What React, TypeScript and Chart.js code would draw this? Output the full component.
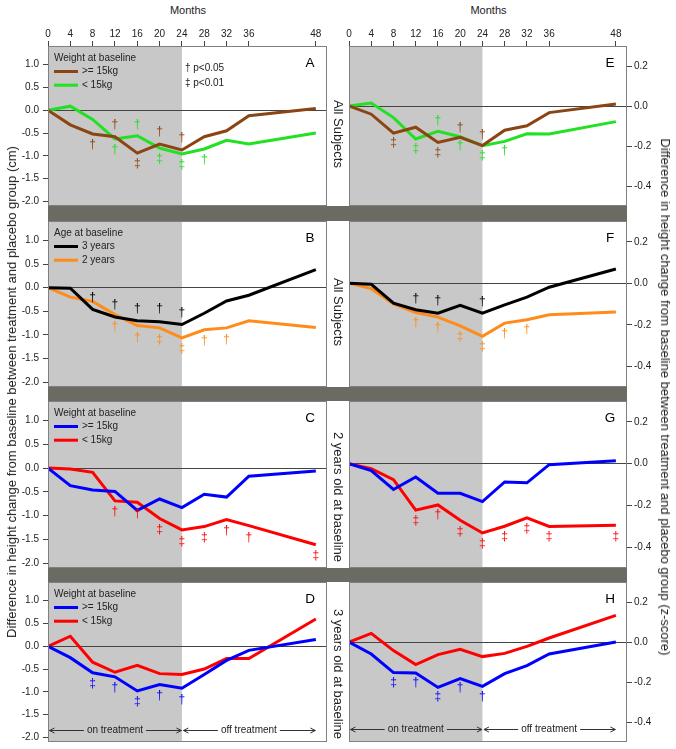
import React, { useEffect, useRef } from 'react';
import { Chart, registerables } from 'chart.js';

Chart.register(...registerables);

const FONT = '"Liberation Sans", Arial, Helvetica, sans-serif';

// ---------- data ----------
const months = [0, 4, 8, 12, 16, 20, 24, 28, 32, 36, 48];
const monthTicks = [0, 4, 8, 12, 16, 20, 24, 28, 32, 36, 48];
const cmTicks = [1.0, 0.5, 0.0, -0.5, -1.0, -1.5, -2.0];
const zTicks = [0.2, 0.0, -0.2, -0.4];
const treatmentWindow = [0, 24];
const phaseLabels = ['on treatment', 'off treatment'];
const phaseBounds = [[0, 24], [24, 48]];
const pLegend = ['\u2020 p<0.05', '\u2021 p<0.01'];
const rowLabels = ['All Subjects', 'All Subjects', '2 years old at baseline', '3 years old at baseline'];
const weightLabels = ['>= 15kg', '< 15kg'];
const ageLabels = ['3 years', '2 years'];
const legendTitles = ['Weight at baseline', 'Age at baseline', 'Weight at baseline', 'Weight at baseline'];
const leftTitle = 'Difference in height change from baseline between treatment and placebo group (cm)';
const rightTitle = 'Difference in height change from baseline between treatment and placebo group (z-score)';

const D = '\u2020';
const DD = '\u2021';

// Panel A (cm, all subjects, by weight)
const aHeavy = [0, -0.32, -0.52, -0.58, -0.94, -0.74, -0.87, -0.58, -0.45, -0.12, 0.04];
const aLight = [0, 0.09, -0.2, -0.63, -0.56, -0.83, -0.96, -0.85, -0.66, -0.74, -0.5];
const aHeavySig: [number, number, string][] = [[8, -0.76, D], [12, -0.32, D], [16, -1.18, DD], [20, -0.48, D], [24, -0.61, D]];
const aLightSig: [number, number, string][] = [[12, -0.87, D], [16, -0.32, D], [20, -1.06, DD], [24, -1.19, DD], [28, -1.09, D]];

// Panel E (z-score, all subjects, by weight)
const eHeavy = [0, -0.041, -0.136, -0.106, -0.182, -0.157, -0.198, -0.121, -0.099, -0.033, 0.01];
const eLight = [0, 0.015, -0.058, -0.165, -0.127, -0.154, -0.198, -0.177, -0.139, -0.14, -0.078];
const eHeavySig: [number, number, string][] = [[8, -0.185, DD], [16, -0.231, DD], [20, -0.107, D], [24, -0.144, D]];
const eLightSig: [number, number, string][] = [[12, -0.215, DD], [16, -0.074, D], [20, -0.198, D], [24, -0.248, DD], [28, -0.223, D]];

// Panel B (cm, all subjects, by age)
const bAge3 = [0, -0.01, -0.46, -0.62, -0.7, -0.72, -0.78, -0.54, -0.28, -0.16, 0.38];
const bAge2 = [0, -0.2, -0.29, -0.57, -0.8, -0.85, -1.06, -0.89, -0.85, -0.7, -0.84];
const bAge3Sig: [number, number, string][] = [[8, -0.21, D], [12, -0.36, D], [16, -0.45, D], [20, -0.45, D], [24, -0.52, D]];
const bAge2Sig: [number, number, string][] = [[12, -0.82, D], [16, -1.06, D], [20, -1.11, DD], [24, -1.3, DD], [28, -1.13, D], [32, -1.1, D]];

// Panel F (z-score, all subjects, by age)
const fAge3 = [0, -0.005, -0.096, -0.128, -0.144, -0.107, -0.144, -0.104, -0.067, -0.019, 0.069];
const fAge2 = [0, -0.026, -0.099, -0.141, -0.163, -0.205, -0.256, -0.192, -0.176, -0.152, -0.138];
const fAge3Sig: [number, number, string][] = [[12, -0.072, D], [16, -0.083, D], [24, -0.091, D]];
const fAge2Sig: [number, number, string][] = [[12, -0.189, D], [16, -0.216, D], [20, -0.256, DD], [24, -0.304, DD], [28, -0.243, D], [32, -0.224, D]];

// Panel C (cm, 2 years old, by weight)
const cHeavy = [0, -0.37, -0.46, -0.49, -0.89, -0.65, -0.83, -0.55, -0.61, -0.17, -0.06];
const cLight = [0, -0.02, -0.09, -0.69, -0.72, -1.06, -1.3, -1.23, -1.08, -1.21, -1.61];
const cLightSig: [number, number, string][] = [[12, -0.92, D], [16, -0.96, D], [20, -1.3, DD], [24, -1.55, DD], [28, -1.46, DD], [32, -1.32, D], [36, -1.46, D], [48, -1.84, DD]];

// Panel G (z-score, 2 years old, by weight)
const gHeavy = [0, -0.033, -0.124, -0.064, -0.142, -0.142, -0.182, -0.088, -0.092, -0.005, 0.014];
const gLight = [0, -0.024, -0.077, -0.223, -0.198, -0.271, -0.332, -0.3, -0.26, -0.301, -0.295];
const gLightSig: [number, number, string][] = [[12, -0.273, DD], [16, -0.247, D], [20, -0.327, DD], [24, -0.383, DD], [28, -0.351, DD], [32, -0.311, DD], [36, -0.352, DD], [48, -0.348, DD]];

// Panel D (cm, 3 years old, by weight)
const dHeavy = [0, -0.25, -0.58, -0.67, -0.98, -0.84, -0.92, -0.62, -0.31, -0.09, 0.15];
const dLight = [0, 0.22, -0.35, -0.57, -0.42, -0.6, -0.62, -0.5, -0.27, -0.27, 0.6];
const dHeavySig: [number, number, string][] = [[8, -0.82, DD], [12, -0.91, D], [16, -1.22, DD], [20, -1.09, D], [24, -1.18, D]];

// Panel H (z-score, 3 years old, by weight)
const hHeavy = [0, -0.06, -0.153, -0.155, -0.227, -0.183, -0.222, -0.158, -0.118, -0.06, 0.0];
const hLight = [0, 0.043, -0.043, -0.113, -0.063, -0.037, -0.073, -0.057, -0.022, 0.02, 0.133];
const hHeavySig: [number, number, string][] = [[8, -0.202, DD], [12, -0.202, D], [16, -0.272, DD], [20, -0.23, D], [24, -0.272, D]];

// phase annotation levels (value units) for bottom panels
const phaseLevelCm = -1.835;
const phaseLevelZ = -0.433;

// ---------- styles ----------
const BROWN = '#8b4513';
const GREEN = '#22e022';
const BLACK = '#000000';
const ORANGE = '#ff8c1a';
const BLUE = '#0000ff';
const RED = '#ff0000';
const SHADE = '#c8c8c8';
const FRAME = '#808080';
const DIVIDER = '#6b6b63';
const TEXT = '#222222';

type Series = { label: string; color: string; values: number[]; sig: [number, number, string][] };
type PanelCfg = {
  key: string;
  letter: string;
  side: 'left' | 'right';
  top: number;
  bottom: number;
  series: Series[];
  legendTitle?: string;
  showP?: boolean;
  topAxis?: boolean;
  phaseLevel?: number;
};

const rows = [
  { top: 46, bottom: 206 },
  { top: 221, bottom: 387 },
  { top: 401, bottom: 568 },
  { top: 582, bottom: 742 },
];

const panels: PanelCfg[] = [
  { key: 'A', letter: 'A', side: 'left', ...rows[0], topAxis: true, showP: true, legendTitle: legendTitles[0],
    series: [
      { label: weightLabels[0], color: BROWN, values: aHeavy, sig: aHeavySig },
      { label: weightLabels[1], color: GREEN, values: aLight, sig: aLightSig },
    ] },
  { key: 'E', letter: 'E', side: 'right', ...rows[0], topAxis: true,
    series: [
      { label: weightLabels[0], color: BROWN, values: eHeavy, sig: eHeavySig },
      { label: weightLabels[1], color: GREEN, values: eLight, sig: eLightSig },
    ] },
  { key: 'B', letter: 'B', side: 'left', ...rows[1], legendTitle: legendTitles[1],
    series: [
      { label: ageLabels[0], color: BLACK, values: bAge3, sig: bAge3Sig },
      { label: ageLabels[1], color: ORANGE, values: bAge2, sig: bAge2Sig },
    ] },
  { key: 'F', letter: 'F', side: 'right', ...rows[1],
    series: [
      { label: ageLabels[0], color: BLACK, values: fAge3, sig: fAge3Sig },
      { label: ageLabels[1], color: ORANGE, values: fAge2, sig: fAge2Sig },
    ] },
  { key: 'C', letter: 'C', side: 'left', ...rows[2], legendTitle: legendTitles[2],
    series: [
      { label: weightLabels[0], color: BLUE, values: cHeavy, sig: [] },
      { label: weightLabels[1], color: RED, values: cLight, sig: cLightSig },
    ] },
  { key: 'G', letter: 'G', side: 'right', ...rows[2],
    series: [
      { label: weightLabels[0], color: BLUE, values: gHeavy, sig: [] },
      { label: weightLabels[1], color: RED, values: gLight, sig: gLightSig },
    ] },
  { key: 'D', letter: 'D', side: 'left', ...rows[3], legendTitle: legendTitles[3], phaseLevel: phaseLevelCm,
    series: [
      { label: weightLabels[0], color: BLUE, values: dHeavy, sig: dHeavySig },
      { label: weightLabels[1], color: RED, values: dLight, sig: [] },
    ] },
  { key: 'H', letter: 'H', side: 'right', ...rows[3], phaseLevel: phaseLevelZ,
    series: [
      { label: weightLabels[0], color: BLUE, values: hHeavy, sig: hHeavySig },
      { label: weightLabels[1], color: RED, values: hLight, sig: [] },
    ] },
];

function decorPlugin(cfg: PanelCfg) {
  return {
    id: 'decor' + cfg.key,
    beforeDraw(chart: any) {
      const { ctx, chartArea: a, scales } = chart;
      const xs = scales.x;
      const x0 = xs.getPixelForValue(treatmentWindow[0]);
      const x1 = xs.getPixelForValue(treatmentWindow[1]);
      ctx.save();
      ctx.fillStyle = SHADE;
      ctx.fillRect(x0, a.top, x1 - x0, a.bottom - a.top);
      ctx.restore();
    },
    afterDatasetsDraw(chart: any) {
      const { ctx, chartArea: a, scales } = chart;
      const xs = scales.x;
      const ys = scales.y;
      ctx.save();
      // frame
      ctx.strokeStyle = FRAME;
      ctx.lineWidth = 1;
      ctx.strokeRect(Math.round(a.left) + 0.5, Math.round(a.top) + 0.5, Math.round(a.right - a.left) - 1, Math.round(a.bottom - a.top) - 1);

      // significance markers
      ctx.font = `12px ${FONT}`;
      ctx.textAlign = 'center';
      ctx.textBaseline = 'middle';
      cfg.series.forEach((s) => {
        ctx.fillStyle = s.color;
        s.sig.forEach(([m, v, g]) => {
          ctx.fillText(g, xs.getPixelForValue(m), ys.getPixelForValue(v));
        });
      });

      // panel letter
      ctx.fillStyle = '#000';
      ctx.font = `13.5px ${FONT}`;
      ctx.fillText(cfg.letter, a.right - 17, a.top + 17.5);

      // legend
      if (cfg.legendTitle) {
        ctx.font = `10px ${FONT}`;
        ctx.textAlign = 'left';
        ctx.fillStyle = TEXT;
        ctx.fillText(cfg.legendTitle, a.left + 6, a.top + 12.5);
        cfg.series.forEach((s, i) => {
          const y = a.top + 25.5 + i * 13.7;
          ctx.strokeStyle = s.color;
          ctx.lineWidth = 3;
          ctx.beginPath();
          ctx.moveTo(a.left + 6, y);
          ctx.lineTo(a.left + 30, y);
          ctx.stroke();
          ctx.fillStyle = TEXT;
          ctx.fillText(s.label, a.left + 34, y);
        });
      }

      // p-value key
      if (cfg.showP) {
        ctx.font = `10px ${FONT}`;
        ctx.textAlign = 'left';
        ctx.fillStyle = TEXT;
        const px = xs.getPixelForValue(treatmentWindow[1]) + 3;
        pLegend.forEach((t, i) => ctx.fillText(t, px, a.top + 22 + i * 15));
      }

      // on / off treatment arrows
      if (cfg.phaseLevel !== undefined) {
        const y = Math.round(ys.getPixelForValue(cfg.phaseLevel)) + 0.5;
        ctx.font = `10px ${FONT}`;
        ctx.textAlign = 'center';
        ctx.strokeStyle = '#333';
        ctx.fillStyle = TEXT;
        ctx.lineWidth = 1;
        phaseBounds.forEach(([s, e], i) => {
          const xa = xs.getPixelForValue(s) + 1.5;
          const xb = xs.getPixelForValue(e) - 0.5;
          const cx = (xs.getPixelForValue(s) + xs.getPixelForValue(e)) / 2;
          const w = ctx.measureText(phaseLabels[i]).width;
          ctx.fillText(phaseLabels[i], cx, y);
          ctx.beginPath();
          ctx.moveTo(xa, y);
          ctx.lineTo(cx - w / 2 - 3, y);
          ctx.moveTo(cx + w / 2 + 3, y);
          ctx.lineTo(xb, y);
          // arrow heads
          ctx.moveTo(xa + 5, y - 2.5);
          ctx.lineTo(xa, y);
          ctx.lineTo(xa + 5, y + 2.5);
          ctx.moveTo(xb - 5, y - 2.5);
          ctx.lineTo(xb, y);
          ctx.lineTo(xb - 5, y + 2.5);
          ctx.stroke();
        });
      }
      ctx.restore();
    },
  };
}

function Panel({ cfg }: { cfg: PanelCfg }) {
  const ref = useRef<HTMLCanvasElement>(null);
  const isLeft = cfg.side === 'left';
  const topPad = cfg.topAxis ? 26 : 0;
  const canvasLeft = isLeft ? 0 : 340;
  const canvasWidth = isLeft ? 328 : 327;
  const canvasTop = cfg.top - topPad;
  const canvasHeight = cfg.bottom - cfg.top + topPad + 2;

  useEffect(() => {
    const canvas = ref.current;
    if (!canvas) return;
    const yTicks = isLeft ? cmTicks : zTicks;
    const chart = new Chart(canvas, {
      type: 'line',
      data: {
        datasets: cfg.series.map((s) => ({
          label: s.label,
          data: months.map((m, i) => ({ x: m, y: s.values[i] })),
          borderColor: s.color,
          backgroundColor: s.color,
          borderWidth: 3,
          pointRadius: 0,
          pointHoverRadius: 0,
          tension: 0,
          fill: false,
        })),
      },
      options: {
        responsive: false,
        animation: false,
        events: [],
        layout: { padding: { left: isLeft ? 0 : 9, right: isLeft ? 1 : 0, top: 0, bottom: 2 } },
        plugins: { legend: { display: false }, tooltip: { enabled: false } },
        scales: {
          x: {
            type: 'linear',
            position: 'top',
            min: 0,
            max: 50,
            display: !!cfg.topAxis,
            afterBuildTicks: (s: any) => {
              s.ticks = monthTicks.map((v) => ({ value: v }));
            },
            afterFit: (s: any) => {
              if (cfg.topAxis) s.height = 26;
              s.paddingLeft = 0;
              s.paddingRight = 0;
            },
            grid: { drawOnChartArea: false, tickLength: 5, color: '#444', tickColor: '#444' },
            border: { display: false },
            ticks: {
              padding: 1,
              autoSkip: false,
              maxRotation: 0,
              color: TEXT,
              font: { family: FONT, size: 10 },
              callback: (v: any) => String(v),
            },
          },
          y: {
            type: 'linear',
            position: isLeft ? 'left' : 'right',
            min: isLeft ? -2.1 : -0.5,
            max: isLeft ? 1.41 : 0.3,
            afterBuildTicks: (s: any) => {
              s.ticks = yTicks.map((v) => ({ value: v }));
            },
            afterFit: (s: any) => {
              s.width = isLeft ? 48 : 40;
              s.paddingTop = 0;
              s.paddingBottom = 0;
            },
            grid: {
              color: (c: any) => (c.tick && Math.abs(c.tick.value) < 1e-9 ? '#444' : 'rgba(0,0,0,0)'),
              tickColor: '#444',
              tickLength: 5,
              lineWidth: 1,
            },
            border: { display: false },
            ticks: {
              padding: isLeft ? 4 : 2,
              autoSkip: false,
              color: TEXT,
              font: { family: FONT, size: 10 },
              callback: (v: any) => Number(v).toFixed(1),
            },
          },
        },
      } as any,
      plugins: [decorPlugin(cfg)],
    });
    return () => chart.destroy();
  }, []);

  return (
    <canvas
      ref={ref}
      width={canvasWidth}
      height={canvasHeight}
      style={{ position: 'absolute', left: canvasLeft, top: canvasTop, width: canvasWidth, height: canvasHeight }}
    />
  );
}

const centered = (x: number, y: number, rot: number, size: number): React.CSSProperties => ({
  position: 'absolute',
  left: x,
  top: y,
  transform: `translate(-50%, -50%) rotate(${rot}deg)`,
  fontSize: size,
  lineHeight: `${Math.round(size * 1.2)}px`,
  whiteSpace: 'nowrap',
  fontFamily: FONT,
  color: TEXT,
});

const dividerRows = [
  { top: 206, height: 15 },
  { top: 387, height: 14 },
  { top: 568, height: 14 },
];
const rowLabelCenters = [134, 312, 497, 674];

export default function App() {
  return (
    <div style={{ position: 'absolute', left: 0, top: 0, width: 676, height: 749, background: '#fff', overflow: 'hidden' }}>
      {panels.map((p) => (
        <Panel key={p.key} cfg={p} />
      ))}
      {dividerRows.map((d, i) => (
        <div key={i} style={{ position: 'absolute', left: 48, top: d.top, width: 579, height: d.height, background: DIVIDER }} />
      ))}
      <div style={centered(188, 10, 0, 11)}>Months</div>
      <div style={centered(488.5, 10, 0, 11)}>Months</div>
      <div style={centered(11.7, 392, -90, 13)}>{leftTitle}</div>
      <div style={centered(664.5, 397, 90, 13)}>{rightTitle}</div>
      {rowLabels.map((t, i) => (
        <div key={i} style={centered(337.5, rowLabelCenters[i], 90, 13)}>
          {t}
        </div>
      ))}
    </div>
  );
}
